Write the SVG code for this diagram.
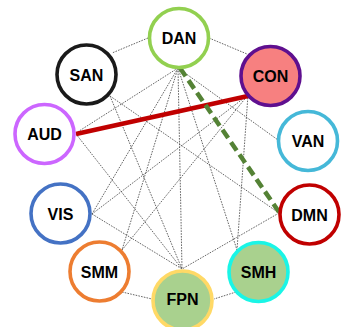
<svg xmlns="http://www.w3.org/2000/svg" width="342" height="327" viewBox="0 0 342 327">
<style>
.e{stroke:#555;stroke-width:0.9;stroke-dasharray:1.6 1.2;fill:none}
.n{stroke-width:3.6;fill:#fff}
.t{font-family:"Liberation Sans",Arial,sans-serif;font-weight:bold;font-size:16px;fill:#000;text-anchor:middle}
</style>
<rect width="342" height="327" fill="#fff"/>
<g id="connectors">
<line class="e" x1="148" y1="38" x2="112" y2="53"/>
<line class="e" x1="209" y1="38" x2="247" y2="54"/>
<line class="e" x1="178" y1="68" x2="76" y2="133"/>
<line class="e" x1="178" y1="68" x2="92" y2="214"/>
<line class="e" x1="178" y1="68" x2="122" y2="250"/>
<line class="e" x1="178" y1="68" x2="182" y2="269"/>
<line class="e" x1="178" y1="68" x2="237" y2="250"/>
<line class="e" x1="178" y1="68" x2="278" y2="140"/>
<line class="e" x1="110" y1="96" x2="182" y2="269"/>
<line class="e" x1="110" y1="96" x2="279" y2="213"/>
<line class="e" x1="76" y1="134" x2="182" y2="269"/>
<line class="e" x1="92" y1="214" x2="248" y2="95"/>
<line class="e" x1="92" y1="214" x2="182" y2="269"/>
<line class="e" x1="122" y1="250" x2="248" y2="95"/>
<line class="e" x1="122" y1="292" x2="152" y2="299"/>
<line class="e" x1="248" y1="95" x2="237" y2="250"/>
<line class="e" x1="279" y1="213" x2="182" y2="269"/>
<line class="e" x1="236" y1="292" x2="214" y2="299"/>
<line x1="76" y1="134" x2="248" y2="96" stroke="#c00000" stroke-width="4.5"/>
<line x1="180" y1="68" x2="279" y2="212" stroke="#548235" stroke-width="4.5" stroke-dasharray="10 5"/>
</g>
<g id="DAN"><circle class="n" cx="179" cy="38" r="29.5" stroke="#92d050"/><text class="t" x="179" y="44">DAN</text></g>
<g id="SAN"><circle class="n" cx="86.5" cy="74.5" r="29.5" stroke="#1a1a1a"/><text class="t" x="86.5" y="80.5">SAN</text></g>
<g id="CON"><circle class="n" cx="270.5" cy="76" r="29.5" stroke="#5f0f8f" style="fill:#f78080"/><text class="t" x="270.5" y="82">CON</text></g>
<g id="AUD"><circle class="n" cx="44.5" cy="134" r="29.5" stroke="#cc66ff"/><text class="t" x="44.5" y="140">AUD</text></g>
<g id="VAN"><circle class="n" cx="308" cy="141" r="29.5" stroke="#45b8d8"/><text class="t" x="308" y="147">VAN</text></g>
<g id="VIS"><circle class="n" cx="60.5" cy="213.5" r="29.5" stroke="#4472c4"/><text class="t" x="60.5" y="219.5">VIS</text></g>
<g id="DMN"><circle class="n" cx="309.5" cy="214.5" r="29.5" stroke="#c00000"/><text class="t" x="309.5" y="220.5">DMN</text></g>
<g id="SMM"><circle class="n" cx="99.5" cy="271.5" r="29.5" stroke="#ed7d31"/><text class="t" x="99.5" y="277.5">SMM</text></g>
<g id="SMH"><circle class="n" cx="258.5" cy="272" r="29.5" stroke="#1af5e6" style="fill:#a9d18e"/><text class="t" x="258.5" y="278">SMH</text></g>
<g id="FPN"><circle class="n" cx="182.5" cy="300.5" r="29.5" stroke="#ffd966" style="fill:#a9d18e"/><text class="t" x="182.5" y="305">FPN</text></g>
</svg>
